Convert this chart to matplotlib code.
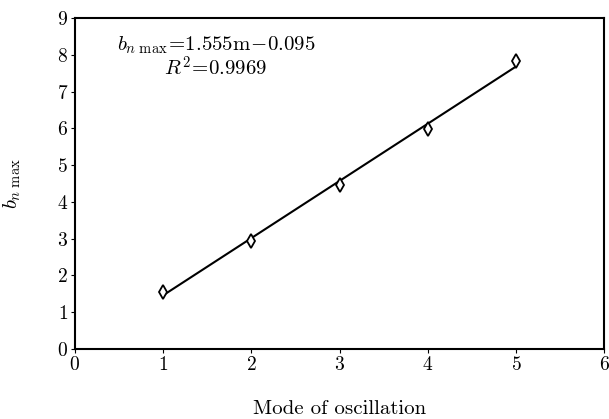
import numpy as np
import matplotlib
matplotlib.use('Agg')
import matplotlib.pyplot as plt

plt.rcParams['font.family'] = 'serif'
plt.rcParams['font.serif'] = ['cmr10']
plt.rcParams['mathtext.fontset'] = 'cm'
plt.rcParams['axes.formatter.use_mathtext'] = True

# data
mode = [1, 2, 3, 4, 5]
bmax = [1.55, 2.95, 4.47, 5.97, 7.83]
slope = 1.555
intercept = -0.095

fig = plt.figure(figsize=(6.09, 4.19), dpi=100)
ax = fig.add_axes([0.123, 0.167, 0.869, 0.79])

xfit = np.array([mode[0], mode[-1]])
ax.plot(xfit, slope * xfit + intercept, color='k', linewidth=1.5)
ax.plot(mode, bmax, linestyle='none', marker='d', markersize=7.5,
        markerfacecolor='white', markeredgecolor='k', markeredgewidth=1.3)

ax.set_xlim(0, 6)
ax.set_ylim(0, 9)
ax.set_xticks(range(0, 7))
ax.set_yticks(range(0, 10))
ax.tick_params(direction='out', length=3, labelsize=14, width=0.8, pad=2)
for s in ax.spines.values():
    s.set_linewidth(1.5)

ax.text(1.6, 7.93, '$b_{n\\ \\max}\\!=\\!1.555\\mathrm{m}\\!-\\!0.095$\n$R^2\\!=\\!0.9969$',
        ha='center', va='center', multialignment='center', fontsize=15,
        linespacing=1.0)

ax.set_xlabel('Mode of oscillation', fontsize=15, labelpad=19)
ax.set_ylabel('$b_{n\\ \\max}$', fontsize=15, labelpad=24)

fig.savefig('out.png', dpi=100)
